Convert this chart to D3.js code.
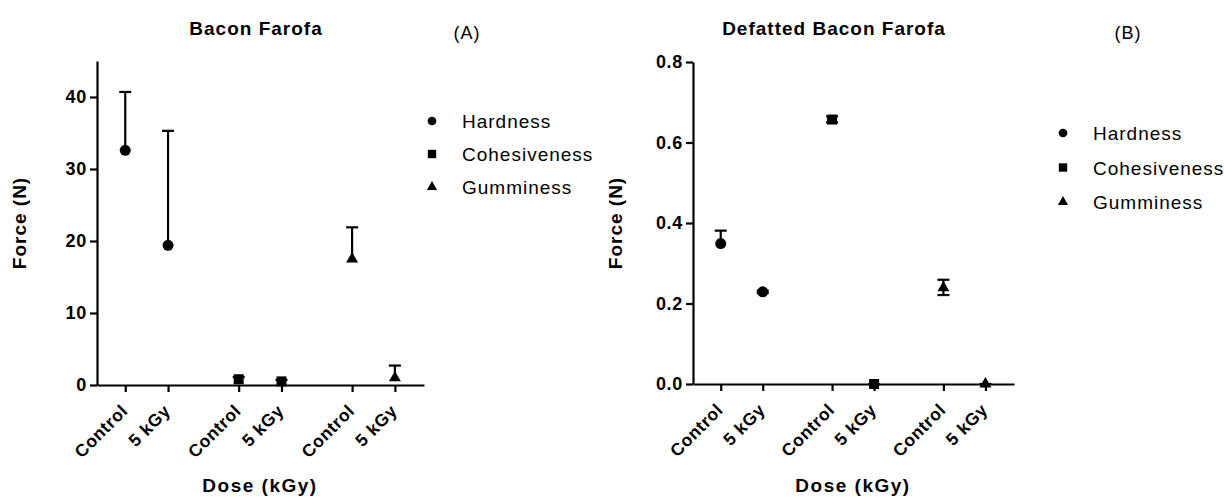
<!DOCTYPE html>
<html>
<head>
<meta charset="utf-8">
<script src="https://cdn.jsdelivr.net/npm/d3@7"></script>
<style>
  body { margin: 0; background: #fff; }
  text { font-family: "Liberation Sans", Arial, sans-serif; fill: #000; }
</style>
</head>
<body>
<svg id="chart" width="1224" height="498"></svg>
<script>
// categories
var doses = ["Control", "5 kGy"];
var measures = ["Hardness", "Cohesiveness", "Gumminess"];

// (A) Bacon Farofa: mean, top and bottom of the error bar, per measure x dose
var baconMean = [[32.6, 19.4], [0.8, 0.5], [17.5, 1.0]];
var baconHigh = [[40.7, 35.3], [1.1, 0.7], [21.9, 2.7]];
var baconLow  = [[32.6, 19.4], [0.8, 0.5], [17.5, 1.0]];
var baconTicks = [0, 10, 20, 30, 40];

// (B) Defatted Bacon Farofa
var defatMean = [[0.349, 0.229], [0.657, 0.0], [0.239, 0.0]];
var defatHigh = [[0.381, 0.232], [0.665, 0.0], [0.259, 0.0]];
var defatLow  = [[0.349, 0.226], [0.650, 0.0], [0.221, 0.0]];
var defatTicks = [0, 0.2, 0.4, 0.6, 0.8];

var symbols = [d3.symbolCircle, d3.symbolSquare, d3.symbolTriangle];
var symSize = [95, 100, 62];
var legSize = [60, 70, 45];

var svg = d3.select("#chart");

// slot along x: groups of two doses with a gap between measures
function slot(g, i) { return g * 2.65 + i; }

function drawPanel(cfg) {
    var x = d3.scaleLinear().domain([-0.66, 6.98]).range([cfg.left, cfg.right]);
    var y = d3.scaleLinear().domain([0, cfg.yMax]).range([cfg.bottom, cfg.top]);
    var g = svg.append("g");

    var rows = [];
    measures.forEach((m, mi) => doses.forEach((d, di) => rows.push({
        m: mi, d: di, pos: slot(mi, di),
        mean: cfg.mean[mi][di], hi: cfg.high[mi][di], lo: cfg.low[mi][di]
    })));

    // x axis
    var xAxis = g.append("g")
        .attr("transform", "translate(0," + cfg.bottom + ")")
        .call(d3.axisBottom(x)
            .tickValues(rows.map(r => r.pos))
            .tickFormat((v, i) => doses[rows[i].d])
            .tickSizeOuter(0).tickSizeInner(7));
    xAxis.selectAll("text")
        .style("font-size", "17.5px").style("font-weight", "bold").style("letter-spacing", "0.6px")
        .attr("text-anchor", "end")
        .attr("dy", null).attr("y", 0)
        .attr("transform", "translate(3,27) rotate(-45)");

    // y axis
    var yAxis = g.append("g")
        .attr("transform", "translate(" + cfg.left + ",0)")
        .call(d3.axisLeft(y).tickValues(cfg.ticks).tickFormat(cfg.fmt)
            .tickSizeOuter(0).tickSizeInner(7).tickPadding(3));
    yAxis.selectAll("text")
        .style("font-size", "18px").style("font-weight", "bold").style("letter-spacing", "0.7px");

    g.selectAll(".domain, .tick line").attr("stroke", "#000").attr("stroke-width", 2.2);

    // error bars
    var eb = g.selectAll("g.err").data(rows).enter().append("g").attr("class", "err");
    eb.append("line")
        .attr("x1", r => x(r.pos)).attr("x2", r => x(r.pos))
        .attr("y1", r => y(r.lo)).attr("y2", r => y(r.hi))
        .attr("stroke", "#000").attr("stroke-width", 2.2);
    eb.append("line")
        .attr("x1", r => x(r.pos) - 6).attr("x2", r => x(r.pos) + 6)
        .attr("y1", r => y(r.hi)).attr("y2", r => y(r.hi))
        .attr("stroke", "#000").attr("stroke-width", 2.2);
    eb.filter(r => r.lo < r.mean).append("line")
        .attr("x1", r => x(r.pos) - 6).attr("x2", r => x(r.pos) + 6)
        .attr("y1", r => y(r.lo)).attr("y2", r => y(r.lo))
        .attr("stroke", "#000").attr("stroke-width", 2.2);

    // points
    g.selectAll("path.pt").data(rows).enter().append("path")
        .attr("class", "pt")
        .attr("d", r => d3.symbol(symbols[r.m], symSize[r.m])())
        .attr("transform", r => "translate(" + x(r.pos) + "," + y(r.mean) + ")")
        .attr("fill", "#000");

    // titles
    g.append("text").attr("x", cfg.titleX).attr("y", 35).attr("text-anchor", "middle")
        .style("font-size", "19px").style("font-weight", "bold").style("letter-spacing", "1px")
        .text(cfg.title);
    g.append("text").attr("x", cfg.tagX).attr("y", 39).attr("text-anchor", "middle")
        .style("font-size", "18px").style("letter-spacing", "1px")
        .text(cfg.tag);

    // axis labels
    g.append("text").attr("transform", "translate(" + cfg.yLabelX + "," + ((cfg.top + cfg.bottom) / 2) + ") rotate(-90)")
        .attr("text-anchor", "middle")
        .style("font-size", "19px").style("font-weight", "bold").style("letter-spacing", "1px")
        .text("Force (N)");
    g.append("text").attr("x", cfg.xLabelX).attr("y", 492).attr("text-anchor", "middle")
        .style("font-size", "19px").style("font-weight", "bold").style("letter-spacing", "1.5px")
        .text("Dose (kGy)");

    // legend
    var leg = g.selectAll("g.leg").data(measures).enter().append("g").attr("class", "leg")
        .attr("transform", (m, i) => "translate(" + cfg.legX + "," + (cfg.legY + i * cfg.legStep) + ")");
    leg.append("path").attr("d", (m, i) => d3.symbol(symbols[i], legSize[i])()).attr("fill", "#000");
    leg.append("text").attr("x", 30).attr("y", 7)
        .style("font-size", "19px").style("letter-spacing", "1px")
        .text(m => m);
}

drawPanel({
    left: 97, right: 424, top: 61, bottom: 385, yMax: 45,
    ticks: baconTicks, fmt: d3.format("d"),
    mean: baconMean, high: baconHigh, low: baconLow,
    title: "Bacon Farofa", titleX: 256, tag: "(A)", tagX: 467,
    yLabelX: 26, xLabelX: 260,
    legX: 432, legY: 121, legStep: 33
});

drawPanel({
    left: 693, right: 1014, top: 62, bottom: 384, yMax: 0.8,
    ticks: defatTicks, fmt: d3.format(".1f"),
    mean: defatMean, high: defatHigh, low: defatLow,
    title: "Defatted Bacon Farofa", titleX: 834, tag: "(B)", tagX: 1128,
    yLabelX: 622, xLabelX: 853,
    legX: 1063, legY: 133, legStep: 34.5
});
</script>
</body>
</html>
